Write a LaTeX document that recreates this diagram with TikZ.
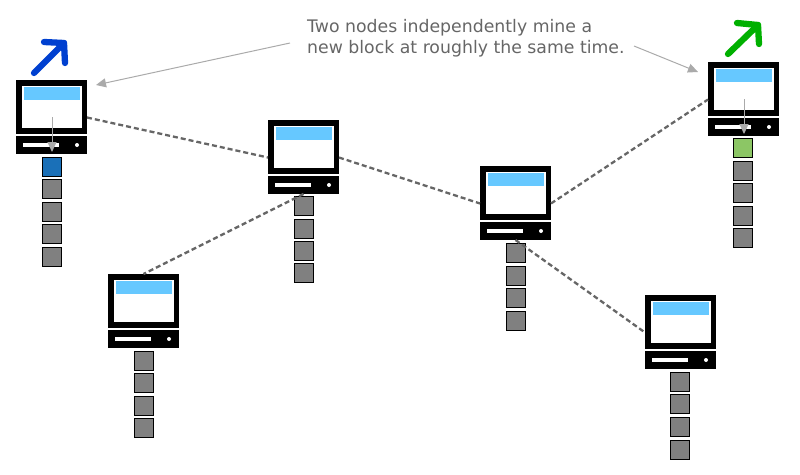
\documentclass[tikz,border=0pt]{standalone}
\usepackage{fontspec}
\setmainfont{DejaVu Sans}
\usetikzlibrary{arrows.meta}
\definecolor{screenblue}{HTML}{66C8FF}
\definecolor{blockgray}{HTML}{808080}
\definecolor{blockblue}{HTML}{1A70B8}
\definecolor{blockgreen}{HTML}{8CC665}
\definecolor{notegray}{HTML}{666666}
\definecolor{arrowgray}{HTML}{AAAAAA}
\definecolor{linkgray}{HTML}{666666}
\definecolor{pickblue}{HTML}{0040D0}
\definecolor{pickgreen}{HTML}{00B000}
\tikzset{
  x=1pt,y=-1pt,
  boxbase/.style={draw=none,inner sep=0pt,outer sep=0pt,anchor=north west},
  monitor/.style={boxbase,fill=black,minimum width=71pt,minimum height=54pt},
  glass/.style={boxbase,fill=white,minimum width=60pt,minimum height=42pt},
  bar/.style={boxbase,fill=screenblue,minimum width=56pt,minimum height=13pt},
  baseunit/.style={boxbase,fill=black,minimum width=71pt,minimum height=18pt},
  slot/.style={boxbase,fill=white,minimum width=36pt,minimum height=4pt},
  led/.style={circle,fill=white,inner sep=0pt,outer sep=0pt,minimum size=4pt},
  block/.style={draw=black,line width=1.5pt,fill=blockgray,inner sep=0pt,outer sep=0pt,minimum size=19pt},
  link/.style={draw=linkgray,line width=2.3pt,dash pattern=on 5pt off 3pt},
  note/.style={draw=arrowgray,line width=1pt,-{Triangle[length=10pt,width=9pt,fill=arrowgray]}},
  pick/.style={line width=6.3pt,line cap=round,line join=round},
  pics/computer/.style={code={
    \node[monitor] (-mon) at (0,0) {};
    \node[glass] (-glass) at (6,6) {};
    \node[bar] (-bar) at (8,7) {};
    \node[baseunit] (-base) at (0,56) {};
    \node[slot] (-slot) at (7,63) {};
    \node[led] (-led) at (61,65) {};
    \coordinate (-left) at (0,37.5);
    \coordinate (-right) at (71,37.5);
    \coordinate (-inner) at (36,37);
    \coordinate (-slotend) at (36,72);
    \coordinate (-noteL) at (80,5);
    \coordinate (-noteR) at (-10,10);
  }}
}
\begin{document}
\begin{tikzpicture}
\useasboundingbox (0,0) rectangle (800,474);
% blocks
\foreach \n/\x/\y/\c in {
 a1/52/167/blockblue,a2/52/189/blockgray,a3/52/212/blockgray,a4/52/234/blockgray,a5/52/257/blockgray,
 b1/304/206/blockgray,b2/304/229/blockgray,b3/304/251/blockgray,b4/304/273/blockgray,
 c1/516/253/blockgray,c2/516/276/blockgray,c3/516/298/blockgray,c4/516/321/blockgray,
 d1/144/361/blockgray,d2/144/383/blockgray,d3/144/406/blockgray,d4/144/428/blockgray,
 e1/680/382/blockgray,e2/680/404/blockgray,e3/680/427/blockgray,e4/680/450/blockgray,
 f1/743/148/blockgreen,f2/743/171/blockgray,f3/743/193/blockgray,f4/743/216/blockgray,f5/743/238/blockgray}
 {\node[block,fill=\c] (\n) at (\x,\y) {};}
% computers
\pic (n1) at (16,80) {computer};
\pic (n2) at (268,120) {computer};
\pic (n3) at (480,166) {computer};
\pic (n4) at (108,274) {computer};
\pic (n5) at (645,295) {computer};
\pic (n6) at (708,62) {computer};
% links
\draw[link] (n1-right) -- (n2-left);
\draw[link] (n2-right) -- (n3-left);
\draw[link] (n3-right) -- (n6-left);
\draw[link] (n2-base.south) -- (n4-mon.north);
\draw[link] (n3-base.south) -- (n5-left);
% caption
\node[anchor=north west,inner sep=0pt,text=notegray,font=\fontsize{17.3pt}{20.8pt}\selectfont,align=left] (cap) at (307,19)
 {Two nodes independently mine a\\new block at roughly the same time.};
\coordinate (capL) at (290,43);
\coordinate (capR) at (634,46);
\draw[note] (capL) -- (n1-noteL);
\draw[note] (capR) -- (n6-noteR);
% block arrows
\draw[note] (n1-inner) -- (n1-slotend);
\draw[note] (n6-inner) -- (n6-slotend);
% picks
\coordinate (bA) at (34,73);
\coordinate (bB) at (64,43);
\coordinate (bC) at (44,42);
\coordinate (bD) at (65,63);
\coordinate (gA) at (728,54);
\coordinate (gB) at (758,25);
\coordinate (gC) at (737,23);
\coordinate (gD) at (759,44);
\draw[pick,draw=pickblue] (bA) -- (bB);
\draw[pick,draw=pickblue] (bC) -- (bB) -- (bD);
\draw[pick,draw=pickgreen] (gA) -- (gB);
\draw[pick,draw=pickgreen] (gC) -- (gB) -- (gD);
\end{tikzpicture}
\end{document}
